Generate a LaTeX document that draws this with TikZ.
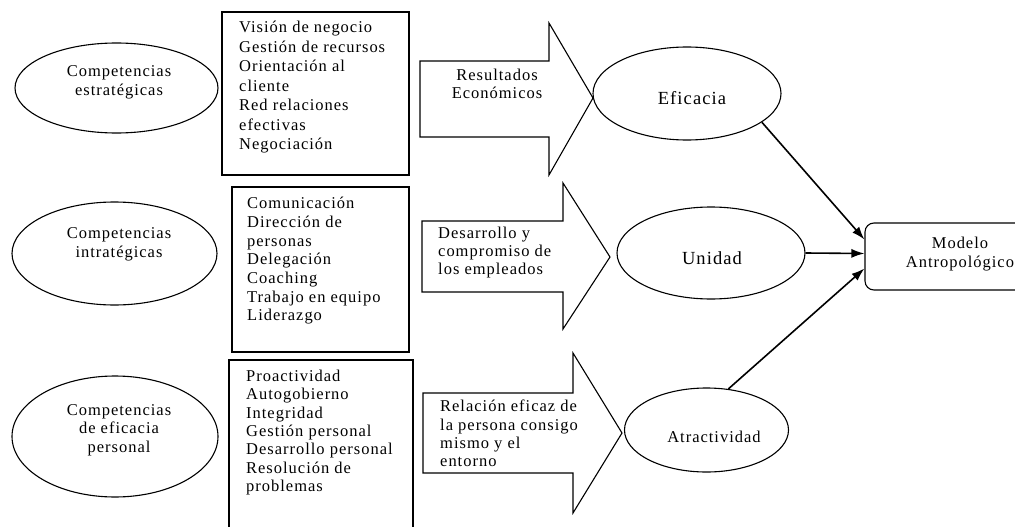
\documentclass[tikz,border=0pt]{standalone}
\usepackage{fontspec}
\setmainfont{Liberation Serif}[LetterSpace=6]
\usetikzlibrary{shapes.geometric,arrows.meta,calc}
\begin{document}
\begin{tikzpicture}[x=1pt,y=-1pt,
  ell/.style={draw,ellipse,line width=1.1pt,inner sep=0pt},
  boxframe/.style={draw,line width=1.1pt,inner sep=0pt},
  bigarrow/.style={draw,line width=1.1pt,line join=miter},
  list/.style={inner sep=0pt,anchor=north west,align=left,font=\fontsize{16.5}{#1}\selectfont},
  etext/.style={inner sep=0pt,align=center,font=\fontsize{16.5}{18.5}\selectfont},
  link/.style={line width=1.6pt,-{Latex[length=13pt,width=9pt]}}]
\useasboundingbox (0,0) rectangle (1015,527);
% left ellipses
\node[ell,minimum width=203pt,minimum height=90pt] (e1) at (116.5,88) {};
\node[etext] (t1) at (119,82.5) {Competencias\\estratégicas};
\node[ell,minimum width=205pt,minimum height=103pt] (e2) at (114.5,253.5) {};
\node[etext] (t2) at (119,244.5) {Competencias\\intratégicas};
\node[ell,minimum width=206pt,minimum height=121pt] (e3) at (115,436.5) {};
\node[etext] (t3) at (119,430) {Competencias\\de eficacia\\personal};
% boxes
\node[boxframe,minimum width=187pt,minimum height=163pt] (b1) at (315.5,93.5) {};
\node[list=19.5] (l1) at (239,21) {Visión de negocio\\Gestión de recursos\\Orientación al\\cliente\\Red relaciones\\efectivas\\Negociación};
\node[boxframe,minimum width=177pt,minimum height=165pt] (b2) at (320.5,269.5) {};
\node[list=18.7] (l2) at (247,197) {Comunicación\\Dirección de\\personas\\Delegación\\Coaching\\Trabajo en equipo\\Liderazgo};
\node[boxframe,minimum width=184pt,minimum height=180pt] (b3) at (321,450) {};
\node[list=18.3] (l3) at (246,370) {Proactividad\\Autogobierno\\Integridad\\Gestión personal\\Desarrollo personal\\Resolución de\\problemas};
% big arrows
\draw[bigarrow] (420,61) -- (549,61) -- (549,23) -- (593,98) -- (549,175) -- (549,137) -- (420,137) -- cycle;
\node[etext] (a1) at (497,84) {Resultados\\Económicos};
\draw[bigarrow] (422,221) -- (563,221) -- (563,183) -- (610,257) -- (563,329) -- (563,292) -- (422,292) -- cycle;
\node[list=17.7,font=\fontsize{16.5}{17.7}\selectfont] (a2) at (438,227) {Desarrollo y\\compromiso de\\los empleados};
\draw[bigarrow] (423,393) -- (573,393) -- (573,353) -- (622,433) -- (573,513) -- (573,473) -- (423,473) -- cycle;
\node[list=18.3,font=\fontsize{16.5}{18.3}\selectfont] (a3) at (440,400) {Relación eficaz de\\la persona consigo\\mismo y el\\entorno};
% result ellipses
\node[ell,minimum width=188pt,minimum height=93pt] (efi) at (687,93.5) {};
\node[inner sep=0pt,font=\fontsize{18.5}{20}\selectfont] (tefi) at (692,98) {Eficacia};
\node[ell,minimum width=188pt,minimum height=92pt] (uni) at (711,253) {};
\node[inner sep=0pt,font=\fontsize{18.5}{20}\selectfont] (tuni) at (712,258) {Unidad};
\node[ell,minimum width=164pt,minimum height=84pt] (atr) at (706.5,430) {};
\node[inner sep=0pt,font=\fontsize{16.5}{19}\selectfont] (tatr) at (714,437) {Atractividad};
% model
\node[draw,line width=1.1pt,rounded corners=9pt,minimum width=190pt,minimum height=67pt,inner sep=0pt] (model) at (960,256.5) {};
\node[etext,font=\fontsize{16.5}{19}\selectfont] (tmodel) at (960,254.5) {Modelo\\Antropológico};
% links
\draw[link] (efi.-21) -- ($(model.west)+(0,-17)$);
\draw[link] (uni.east) -- ($(model.west)+(0,-3)$);
\draw[link] (atr.62) -- ($(model.west)+(0,12)$);
\end{tikzpicture}
\end{document}
